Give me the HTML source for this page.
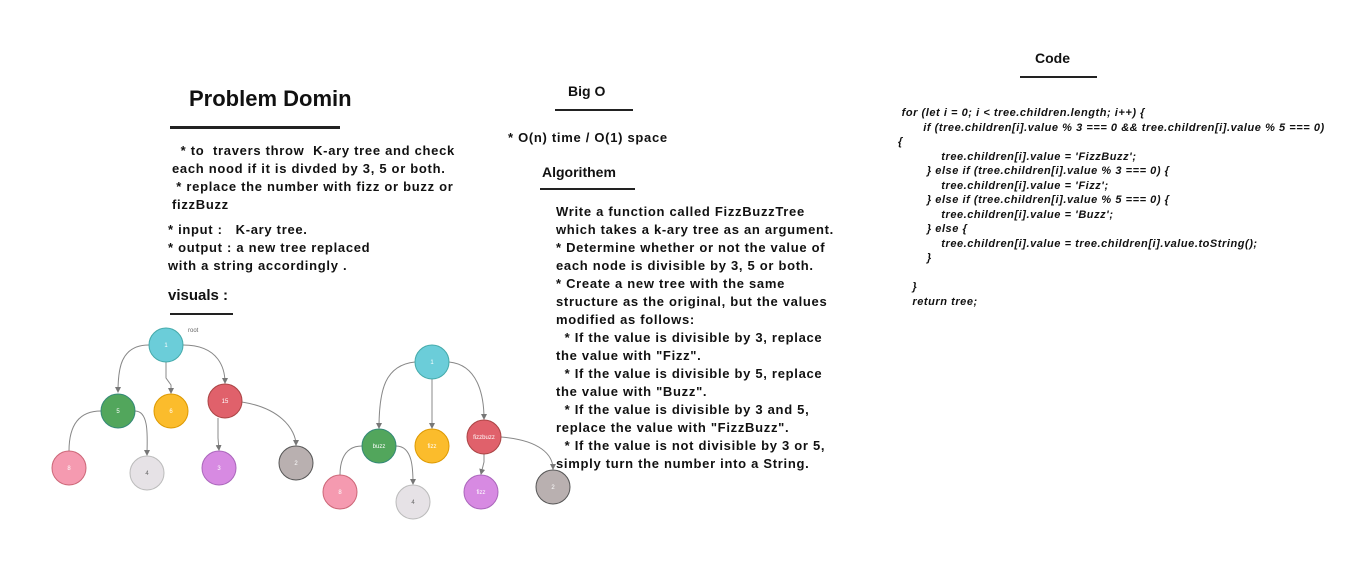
<!DOCTYPE html>
<html><head><meta charset="utf-8"><style>
body{margin:0;width:1366px;height:568px;background:#fff;position:relative;overflow:hidden;font-family:"Liberation Sans",sans-serif;color:#111}
.t{position:absolute;white-space:pre;font-size:13px;line-height:18px;font-weight:bold;letter-spacing:0.7px}
.h{position:absolute;font-weight:bold}
.u{position:absolute;height:2px;background:#222}
.c{position:absolute;white-space:pre;font-size:11px;line-height:14.5px;font-style:italic;font-weight:bold;letter-spacing:0.55px}
</style></head><body>
<div class="h" style="left:189px;top:86px;font-size:22px">Problem Domin</div>
<div class="u" style="left:170px;top:126px;width:170px;height:3px"></div>
<div class="t" style="left:172px;top:142px">  * to  travers throw  K-ary tree and check
each nood if it is divded by 3, 5 or both.
 * replace the number with fizz or buzz or
fizzBuzz</div>
<div class="t" style="left:168px;top:221px">* input :   K-ary tree.
* output : a new tree replaced
with a string accordingly .</div>
<div class="h" style="left:168px;top:287px;font-size:15px">visuals :</div>
<div class="u" style="left:170px;top:313px;width:63px"></div>
<div class="h" style="left:568px;top:83px;font-size:14px">Big O</div>
<div class="u" style="left:555px;top:109px;width:78px"></div>
<div class="t" style="left:508px;top:129px">* O(n) time / O(1) space</div>
<div class="h" style="left:542px;top:164px;font-size:14px">Algorithem</div>
<div class="u" style="left:540px;top:188px;width:95px"></div>
<div class="t" style="left:556px;top:203px;font-size:13px">Write a function called FizzBuzzTree
which takes a k-ary tree as an argument.
* Determine whether or not the value of
each node is divisible by 3, 5 or both.
* Create a new tree with the same
structure as the original, but the values
modified as follows:
  * If the value is divisible by 3, replace
the value with "Fizz".
  * If the value is divisible by 5, replace
the value with "Buzz".
  * If the value is divisible by 3 and 5,
replace the value with "FizzBuzz".
  * If the value is not divisible by 3 or 5,
simply turn the number into a String.</div>
<div class="h" style="left:1035px;top:50px;font-size:14px">Code</div>
<div class="u" style="left:1020px;top:76px;width:77px"></div>
<div class="c" style="left:898px;top:106px"> for (let i = 0; i &lt; tree.children.length; i++) {
       if (tree.children[i].value % 3 === 0 &amp;&amp; tree.children[i].value % 5 === 0)
{
            tree.children[i].value = 'FizzBuzz';
        } else if (tree.children[i].value % 3 === 0) {
            tree.children[i].value = 'Fizz';
        } else if (tree.children[i].value % 5 === 0) {
            tree.children[i].value = 'Buzz';
        } else {
            tree.children[i].value = tree.children[i].value.toString();
        }

    }
    return tree;</div>
<svg width="1366" height="568" style="position:absolute;left:0;top:0" font-family="Liberation Sans" font-size="6">
<defs><marker id="a" markerWidth="6" markerHeight="6" refX="5" refY="3" orient="auto"><path d="M0,0L6,3L0,6z" fill="#777"/></marker></defs>
<g fill="none" stroke="#888" stroke-width="1" marker-end="url(#a)">
<path d="M149,345 C120,345 118,370 118,392"/>
<path d="M166,362 L166,378 L171,385 L171,393"/>
<path d="M183,345 C220,345 225,370 225,383"/>
<path d="M233,401 C280,405 296,430 296,445"/>
<path d="M218,418 L218,438 L219,450"/>
<path d="M135,411 C150,411 147,440 147,455"/>
<path d="M415,362 C385,365 379,390 379,428"/>
<path d="M432,379 L432,428"/>
<path d="M449,362 C480,365 484,400 484,419"/>
<path d="M501,437 C540,440 553,455 553,469"/>
<path d="M484,454 L484,462 L481,474"/>
<path d="M396,446 C413,446 413,470 413,484"/>
</g>
<g fill="none" stroke="#888"><path d="M101,411 C70,411 69,440 69,451"/><path d="M362,446 C340,446 340,470 340,475"/></g>
<g stroke-width="1">
<circle cx="166" cy="345" r="17" fill="#6bcdd9" stroke="#4aa"/>
<circle cx="118" cy="411" r="17" fill="#52a65c" stroke="#387"/>
<circle cx="171" cy="411" r="17" fill="#fbbc2c" stroke="#d90"/>
<circle cx="225" cy="401" r="17" fill="#e0616b" stroke="#a44"/>
<circle cx="69" cy="468" r="17" fill="#f59ab0" stroke="#c67"/>
<circle cx="147" cy="473" r="17" fill="#e6e2e6" stroke="#bbb"/>
<circle cx="219" cy="468" r="17" fill="#d78ae2" stroke="#a6b"/>
<circle cx="296" cy="463" r="17" fill="#b9b0b0" stroke="#555"/>
<circle cx="432" cy="362" r="17" fill="#6bcdd9" stroke="#4aa"/>
<circle cx="379" cy="446" r="17" fill="#52a65c" stroke="#387"/>
<circle cx="432" cy="446" r="17" fill="#fbbc2c" stroke="#d90"/>
<circle cx="484" cy="437" r="17" fill="#e0616b" stroke="#a44"/>
<circle cx="340" cy="492" r="17" fill="#f59ab0" stroke="#c67"/>
<circle cx="413" cy="502" r="17" fill="#e6e2e6" stroke="#bbb"/>
<circle cx="481" cy="492" r="17" fill="#d78ae2" stroke="#a6b"/>
<circle cx="553" cy="487" r="17" fill="#b9b0b0" stroke="#555"/>
</g>
<g fill="#fff" text-anchor="middle">
<text x="166" y="347">1</text><text x="118" y="413">5</text><text x="171" y="413">6</text><text x="225" y="403">15</text>
<text x="69" y="470">8</text><text x="147" y="475" fill="#666">4</text><text x="219" y="470">3</text><text x="296" y="465">2</text>
<text x="432" y="364">1</text><text x="379" y="448">buzz</text><text x="432" y="448">fizz</text><text x="484" y="439">fizzbuzz</text>
<text x="340" y="494">8</text><text x="413" y="504" fill="#666">4</text><text x="481" y="494">fizz</text><text x="553" y="489">2</text>
</g>
<text x="188" y="332" fill="#666" font-size="6">root</text>
</svg>
</body></html>
